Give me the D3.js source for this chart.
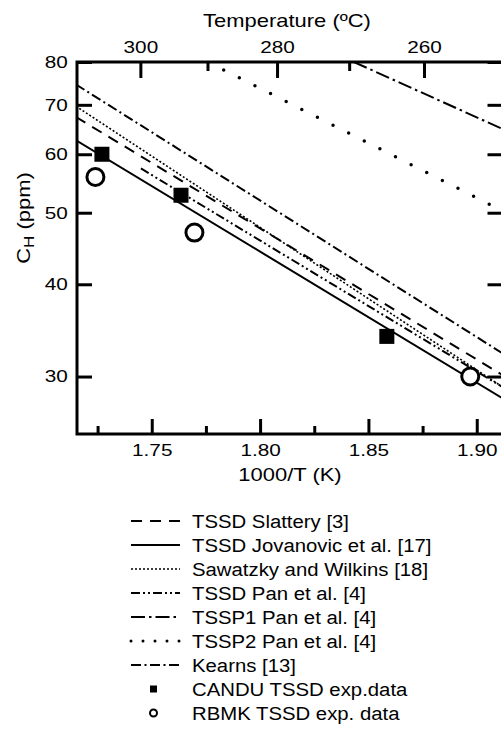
<!DOCTYPE html>
<html>
<head>
<meta charset="utf-8">
<script src="https://cdn.jsdelivr.net/npm/d3@7"></script>
<style>
  html, body { margin: 0; padding: 0; background: #fff; }
  svg { display: block; }
</style>
</head>
<body>
<svg id="chart" width="501" height="732"></svg>
<script>
  // axis ticks
  const xTicks = [1.75, 1.80, 1.85, 1.90];
  const xMinor = [1.725, 1.775, 1.825, 1.875];
  const tempTicks = [300, 280, 260];
  const tempMinor = [290, 270];
  const yTicks = [30, 40, 50, 60, 70, 80];

  // correlations (straight lines on log C vs 1000/T), end points
  const lineNames = ['TSSD Slattery [3]', 'TSSD Jovanovic et al. [17]', 'Sawatzky and Wilkins [18]',
                     'TSSD Pan et al. [4]', 'TSSP1 Pan et al. [4]', 'TSSP2 Pan et al. [4]', 'Kearns [13]'];
  const lineX0 = [1.715, 1.715, 1.715, 1.745, 1.8433, 1.776, 1.715];
  const lineX1 = [1.913, 1.913, 1.913, 1.913, 1.913, 1.913, 1.913];
  const lineC0 = [67.4, 62.7, 69.7, 57.4, 80, 80, 74.6];
  const lineC1 = [30.0, 27.9, 28.9, 28.9, 64.7, 50.1, 32.1];

  // experimental points
  const canduX = [1.727, 1.7635, 1.8585];
  const canduC = [60, 52.8, 34.0];
  const rbmkX = [1.724, 1.7697, 1.897];
  const rbmkC = [55.9, 47.0, 30.0];

  const dashes = ['11,8', null, '2,2', '9,3,2,3,2,3', '14,4,2.5,4', '0,17.5', '10,3.5,2,3.5'];
  const widths = [2, 2, 1.6, 2, 2, 3.5, 2];

  const FONT = 'Liberation Sans, Arial, Helvetica, sans-serif';
  const SX = 1.22; // text in the figure is wider than Arial

  const svg = d3.select('#chart').attr('font-family', FONT);

  const pL = 77, pR = 503.5, pT = 62, pB = 434;
  const x = d3.scaleLinear().domain([1.7155, 1.7155 + (pR - pL) / 2166.7]).range([pL, pR]);
  const y = d3.scaleLog().domain([25, 80]).range([435, pT]);

  svg.append('clipPath').attr('id', 'clip')
    .append('rect').attr('x', pL).attr('y', pT).attr('width', pR - pL).attr('height', pB - pT);

  function styleAxis(g, fs) {
    g.select('.domain').remove();
    g.attr('font-family', FONT).attr('font-size', fs);
    g.selectAll('line').attr('stroke', '#000').attr('stroke-width', 3);
    g.selectAll('text').attr('fill', '#000').attr('transform', 'scale(' + SX + ',1)');
  }

  // bottom axis
  svg.append('g').attr('transform', 'translate(0,' + pB + ')')
    .call(d3.axisBottom(x).tickValues(xTicks).tickFormat(d3.format('.2f')).tickSize(-15).tickPadding(10))
    .call(g => styleAxis(g, 17));
  svg.append('g').attr('transform', 'translate(0,' + pB + ')')
    .call(d3.axisBottom(x).tickValues(xMinor).tickFormat('').tickSize(-8))
    .call(g => styleAxis(g, 17));

  // top axis: temperature in C
  const invT = t => 1000 / (t + 273.15);
  svg.append('g').attr('transform', 'translate(0,' + pT + ')')
    .call(d3.axisTop(x).tickValues(tempTicks.map(invT)).tickFormat((d, i) => tempTicks[i]).tickSize(-16).tickPadding(9))
    .call(g => styleAxis(g, 17));
  svg.append('g').attr('transform', 'translate(0,' + pT + ')')
    .call(d3.axisTop(x).tickValues(tempMinor.map(invT)).tickFormat('').tickSize(-9))
    .call(g => styleAxis(g, 17));

  // left and right axes
  svg.append('g').attr('transform', 'translate(' + pL + ',0)')
    .call(d3.axisLeft(y).tickValues(yTicks).tickFormat(d3.format('d')).tickSize(-15).tickPadding(7.5))
    .call(g => styleAxis(g, 17));
  svg.append('g').attr('transform', 'translate(' + pR + ',0)')
    .call(d3.axisRight(y).tickValues(yTicks).tickFormat('').tickSize(-16))
    .call(g => styleAxis(g, 17));

  // frame
  svg.append('rect')
    .attr('x', pL).attr('y', pT).attr('width', pR - pL).attr('height', pB - pT)
    .attr('fill', 'none').attr('stroke', '#000').attr('stroke-width', 3);

  // axis titles
  svg.append('text')
    .attr('transform', 'translate(287,27) scale(' + SX + ',1)')
    .attr('text-anchor', 'middle').attr('font-size', 18)
    .text('Temperature (ºC)');
  svg.append('text')
    .attr('transform', 'translate(290,481) scale(' + SX + ',1)')
    .attr('text-anchor', 'middle').attr('font-size', 18)
    .text('1000/T (K)');
  const yt = svg.append('text')
    .attr('transform', 'translate(30,218) rotate(-90) scale(' + SX + ',1)')
    .attr('text-anchor', 'middle').attr('font-size', 18);
  yt.append('tspan').text('C');
  yt.append('tspan').attr('dy', 4).attr('font-size', 14).text('H');
  yt.append('tspan').attr('dy', -4).text(' (ppm)');

  // correlation lines
  const lines = lineNames.map((n, i) => ({
    name: n, dash: dashes[i], w: widths[i],
    pts: [[lineX0[i], lineC0[i]], [lineX1[i], lineC1[i]]]
  }));
  const lineGen = d3.line().x(d => x(d[0])).y(d => y(d[1]));
  svg.append('g').attr('clip-path', 'url(#clip)')
    .selectAll('path').data(lines).join('path')
    .attr('d', d => lineGen(d.pts))
    .attr('fill', 'none').attr('stroke', '#000')
    .attr('stroke-width', d => d.w)
    .attr('stroke-linecap', d => d.dash && d.dash.startsWith('0') ? 'round' : 'butt')
    .attr('stroke-dasharray', d => d.dash);

  // experimental points
  const sq = 15;
  svg.append('g').selectAll('rect').data(canduX.map((v, i) => [v, canduC[i]])).join('rect')
    .attr('x', d => x(d[0]) - sq / 2).attr('y', d => y(d[1]) - sq / 2)
    .attr('width', sq).attr('height', sq).attr('fill', '#000');
  svg.append('g').selectAll('circle').data(rbmkX.map((v, i) => [v, rbmkC[i]])).join('circle')
    .attr('cx', d => x(d[0])).attr('cy', d => y(d[1])).attr('r', 8.5)
    .attr('fill', '#fff').attr('stroke', '#000').attr('stroke-width', 3);

  // legend
  const legendNames = lineNames.concat(['CANDU TSSD exp.data', 'RBMK TSSD exp. data']);
  const lg = svg.append('g');
  legendNames.forEach((n, i) => {
    const cy = 521 + i * 24;
    if (i < lines.length) {
      lg.append('line').attr('x1', 131).attr('x2', 180).attr('y1', cy).attr('y2', cy)
        .attr('stroke', '#000').attr('stroke-width', i === 5 ? 3 : (i === 2 ? 1.6 : 2))
        .attr('stroke-linecap', i === 5 ? 'round' : 'butt')
        .attr('stroke-dasharray', i === 5 ? '0,12' : dashes[i]);
    } else if (i === lines.length) {
      lg.append('rect').attr('x', 150).attr('y', cy - 3.5).attr('width', 7).attr('height', 7).attr('fill', '#000');
    } else {
      lg.append('circle').attr('cx', 153.5).attr('cy', cy).attr('r', 3.5)
        .attr('fill', '#fff').attr('stroke', '#000').attr('stroke-width', 2);
    }
    lg.append('text')
      .attr('transform', 'translate(192,' + (cy + 6.5) + ') scale(1.13,1)')
      .attr('font-size', 18).text(n);
  });
</script>
</body>
</html>
